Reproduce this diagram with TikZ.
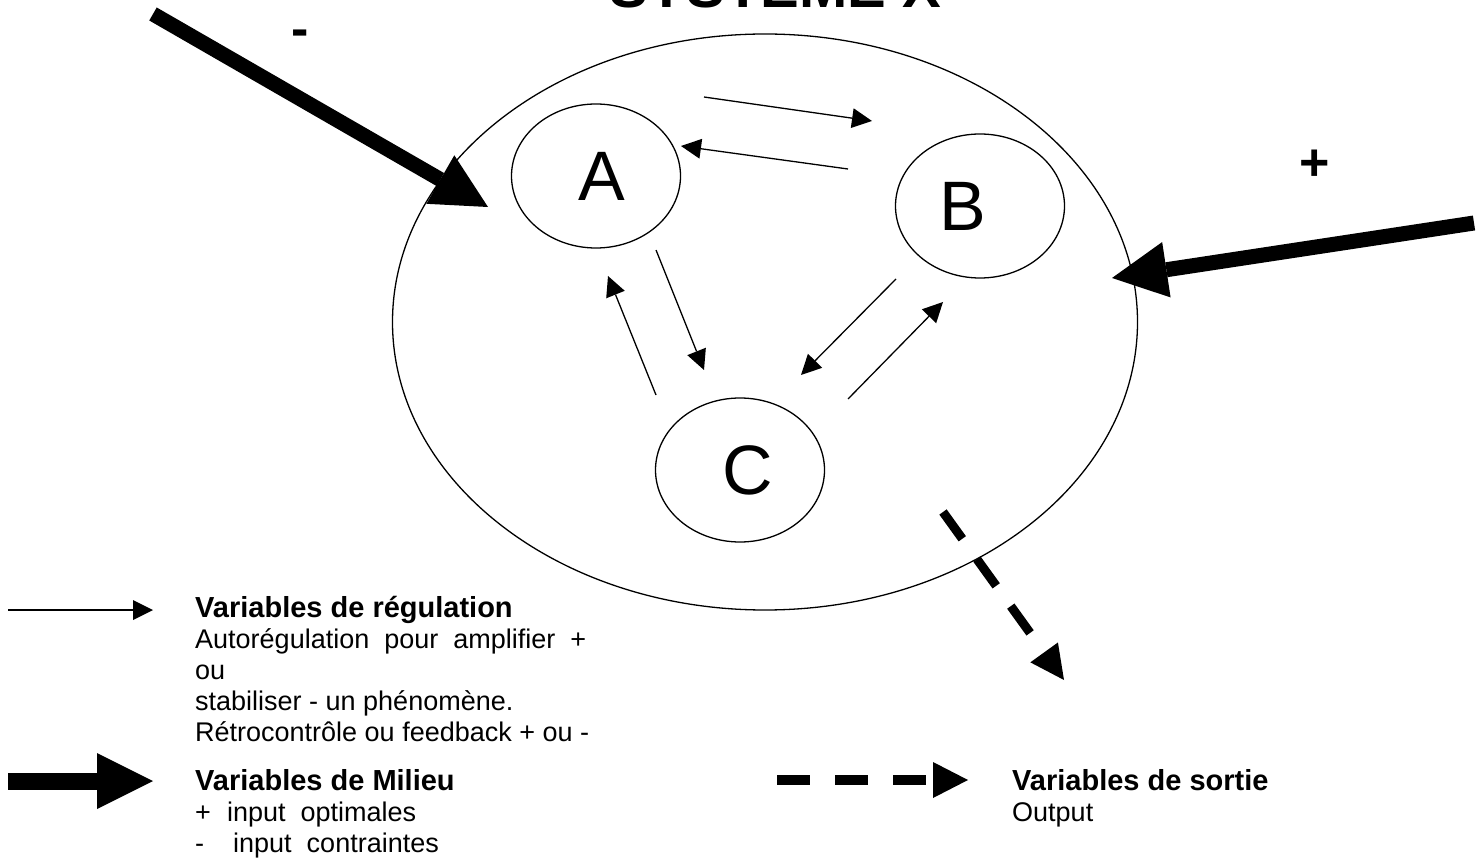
\documentclass[tikz,border=0pt]{standalone}
\usepackage{fontspec}
\setmainfont{Liberation Sans}
\usetikzlibrary{shapes.geometric,arrows.meta}
\tikzset{
  sub/.style={ellipse, draw, line width=1.3pt, minimum width=169pt, minimum height=144pt, inner sep=0pt, font=\fontsize{70}{70}\selectfont},
  sys/.style={ellipse, draw, line width=1.3pt, minimum width=745pt, minimum height=576pt, inner sep=0pt},
  reg/.style={line width=1.3pt, -{Triangle[length=20pt,width=20pt,line width=0pt]}},
  big/.style={line width=15pt, -{Triangle[length=55pt,width=56pt,line width=0pt]}},
  bigl/.style={line width=17pt, -{Triangle[length=56pt,width=56pt,line width=0pt]}},
  outp/.style={line width=9pt, dash pattern=on 33pt off 25pt, -{Triangle[length=34pt,width=34pt,line width=0pt]}},
  outl/.style={line width=10pt, dash pattern=on 33pt off 25pt, -{Triangle[length=35pt,width=36pt,line width=0pt]}},
  lgb/.style={anchor=base west, inner sep=0pt, font=\fontsize{29}{31}\selectfont\bfseries},
  lgn/.style={anchor=base west, inner sep=0pt, font=\fontsize{27}{31}\selectfont},
  sign/.style={anchor=base, inner sep=0pt, font=\fontsize{52}{52}\selectfont\bfseries},
}
\begin{document}
\begin{tikzpicture}[x=1pt,y=-1pt]
\useasboundingbox (0,0) rectangle (1484,858);

% title
\node[anchor=base, inner sep=0pt, font=\fontsize{58}{60}\selectfont\bfseries] (title) at (775,8) {SYSTEME X};

% system and subsystems
\node[sys] (S) at (765,322) {};
\node[sub] (A) at (596,176) {\rule{12pt}{0pt}A};
\node[sub] (B) at (980,206) {B\rule{34pt}{0pt}};
\node[sub] (C) at (740,470) {\rule{16pt}{0pt}C};

% regulation arrows
\coordinate (ab1) at (704,97);  \coordinate (ab2) at (872,121);
\coordinate (ba1) at (848,169); \coordinate (ba2) at (681,146);
\coordinate (ac1) at (656,250); \coordinate (ac2) at (704,370);
\coordinate (ca1) at (656,395); \coordinate (ca2) at (608,276);
\coordinate (bc1) at (896,279); \coordinate (bc2) at (801,375);
\coordinate (cb1) at (848,399); \coordinate (cb2) at (943,302);
\draw[reg] (ab1) -- (ab2);
\draw[reg] (ba1) -- (ba2);
\draw[reg] (ac1) -- (ac2);
\draw[reg] (ca1) -- (ca2);
\draw[reg] (bc1) -- (bc2);
\draw[reg] (cb1) -- (cb2);

% environment arrows
\coordinate (m1s) at (153,14);  \coordinate (m1e) at (488,207);
\coordinate (m2s) at (1474,223); \coordinate (m2e) at (1112,278);
\draw[big] (m1s) -- (m1e);
\draw[big] (m2s) -- (m2e);
\node[sign] (minus) at (300,47) {-};
\node[sign] (plus) at (1315,181) {+};

% output arrow
\coordinate (o1) at (943,512); \coordinate (o2) at (1064,680);
\draw[outp] (o1) -- (o2);

% legend
\coordinate (l1s) at (8,610); \coordinate (l1e) at (153,610);
\draw[reg] (l1s) -- (l1e);
\node[lgb] (t1) at (195,617) {Variables de régulation};
\node[lgn] (t2) at (195,648) {Autorégulation\ \ pour\ \ amplifier\ \ +};
\node[lgn] (t3) at (195,679) {ou};
\node[lgn] (t4) at (195,710) {stabiliser - un phénomène.};
\node[lgn] (t5) at (195,741) {Rétrocontrôle ou feedback + ou -};

\coordinate (l2s) at (8,781); \coordinate (l2e) at (153,781);
\draw[bigl] (l2s) -- (l2e);
\node[lgb] (t6) at (195,790) {Variables de Milieu};
\node[lgn] (t7) at (195,821) {\makebox[32pt][l]{+}input\ \ optimales};
\node[lgn] (t8) at (195,852) {\makebox[38pt][l]{-}input\ \ contraintes};

\coordinate (l3s) at (777,780); \coordinate (l3e) at (968,780);
\draw[outl] (l3s) -- (l3e);
\node[lgb] (t9) at (1012,790) {Variables de sortie};
\node[lgn] (t10) at (1012,821) {Output};
\end{tikzpicture}
\end{document}
